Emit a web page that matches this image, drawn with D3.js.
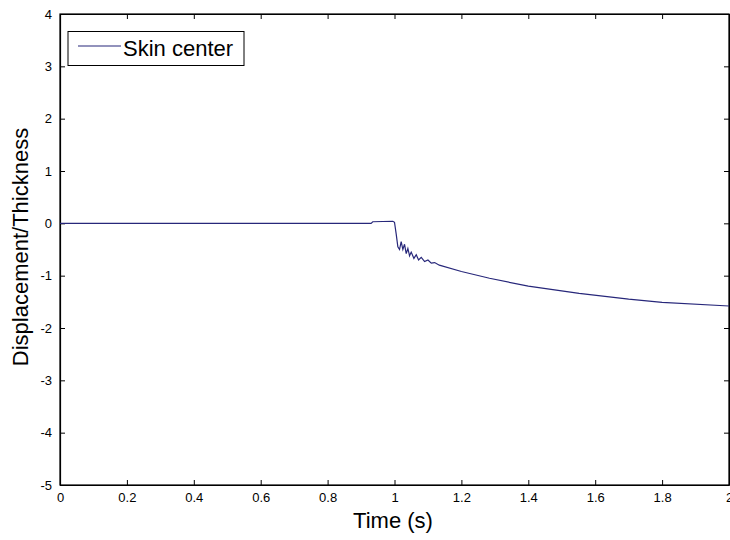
<!DOCTYPE html>
<html>
<head>
<meta charset="utf-8">
<script src="https://cdn.jsdelivr.net/npm/d3@7"></script>
<style>
  body { margin: 0; background: #fff; }
  text { font-family: "Liberation Sans", Arial, Helvetica, sans-serif; fill: #000; }
</style>
</head>
<body>
<div id="chart"></div>
<script>
// values
var times  = [0, 0.93, 0.935, 0.995, 1.0, 1.005, 1.01, 1.015, 1.02, 1.025, 1.03, 1.035, 1.04, 1.045, 1.05,
              1.058, 1.065, 1.072, 1.08, 1.09, 1.1, 1.11, 1.12, 1.134, 1.2, 1.284, 1.4, 1.552, 1.7, 1.8, 2.0];
var values = [0, 0, 0.03, 0.04, 0.02, -0.2, -0.45, -0.5, -0.35, -0.5, -0.4, -0.58, -0.48, -0.62, -0.55,
              -0.67, -0.6, -0.7, -0.65, -0.73, -0.7, -0.76, -0.75, -0.80, -0.92, -1.05, -1.2, -1.34, -1.45, -1.51, -1.58];
var xTicks = [0, 0.2, 0.4, 0.6, 0.8, 1, 1.2, 1.4, 1.6, 1.8, 2];
var yTicks = [-5, -4, -3, -2, -1, 0, 1, 2, 3, 4];
var seriesName = "Skin center";

var W = 730, H = 540;
var margin = {left: 60, right: 1, top: 14, bottom: 55};

var svg = d3.select("#chart").append("svg")
  .attr("width", W).attr("height", H);

var x = d3.scaleLinear().domain([0, 2]).range([margin.left, W - margin.right]);
var y = d3.scaleLinear().domain([-5, 4]).range([H - margin.bottom, margin.top]);

var fmt = function(d) { return String(d); };

// axes, ticks pointing inward like matlab
svg.append("g")
  .attr("transform", "translate(0," + y(-5) + ")")
  .call(d3.axisBottom(x).tickValues(xTicks).tickFormat(fmt).tickSizeInner(-5).tickSizeOuter(0).tickPadding(8));
svg.append("g")
  .attr("transform", "translate(0," + y(4) + ")")
  .call(d3.axisTop(x).tickValues(xTicks).tickFormat("").tickSizeInner(-5).tickSizeOuter(0));
svg.append("g")
  .attr("transform", "translate(" + x(0) + ",0)")
  .call(d3.axisLeft(y).tickValues(yTicks).tickFormat(fmt).tickSizeInner(-5).tickSizeOuter(0).tickPadding(8));
svg.append("g")
  .attr("transform", "translate(" + x(2) + ",0)")
  .call(d3.axisRight(y).tickValues(yTicks).tickFormat("").tickSizeInner(-5).tickSizeOuter(0));

svg.selectAll(".domain").attr("stroke", "#000").attr("stroke-width", 1.2);
svg.selectAll(".tick line").attr("stroke", "#000");
svg.selectAll(".tick text").style("font-size", "13px");

// frame
svg.append("rect")
  .attr("x", x(0)).attr("y", y(4))
  .attr("width", x(2) - x(0)).attr("height", y(-5) - y(4))
  .attr("fill", "none").attr("stroke", "#000").attr("stroke-width", 1.2);

var line = d3.line()
  .x(function(d, i) { return x(times[i]); })
  .y(function(d) { return y(d); });

svg.append("path")
  .datum(values)
  .attr("d", line)
  .attr("fill", "none")
  .attr("stroke", "#27277a")
  .attr("stroke-width", 1.2);

// labels
svg.append("text")
  .attr("x", 393).attr("y", 528)
  .attr("text-anchor", "middle")
  .style("font-size", "22px")
  .text("Time (s)");

svg.append("text")
  .attr("transform", "translate(28,247) rotate(-90)")
  .attr("text-anchor", "middle")
  .style("font-size", "22px")
  .text("Displacement/Thickness");

// legend
var lg = svg.append("g");
lg.append("rect")
  .attr("x", 68).attr("y", 31.5).attr("width", 176).attr("height", 34)
  .attr("fill", "#fff").attr("stroke", "#000").attr("stroke-width", 1);
lg.append("line")
  .attr("x1", 78).attr("x2", 121).attr("y1", 46).attr("y2", 46)
  .attr("stroke", "#27277a").attr("stroke-width", 1.2);
lg.append("text")
  .attr("x", 123).attr("y", 56)
  .style("font-size", "22px")
  .text(seriesName);
</script>
</body>
</html>
